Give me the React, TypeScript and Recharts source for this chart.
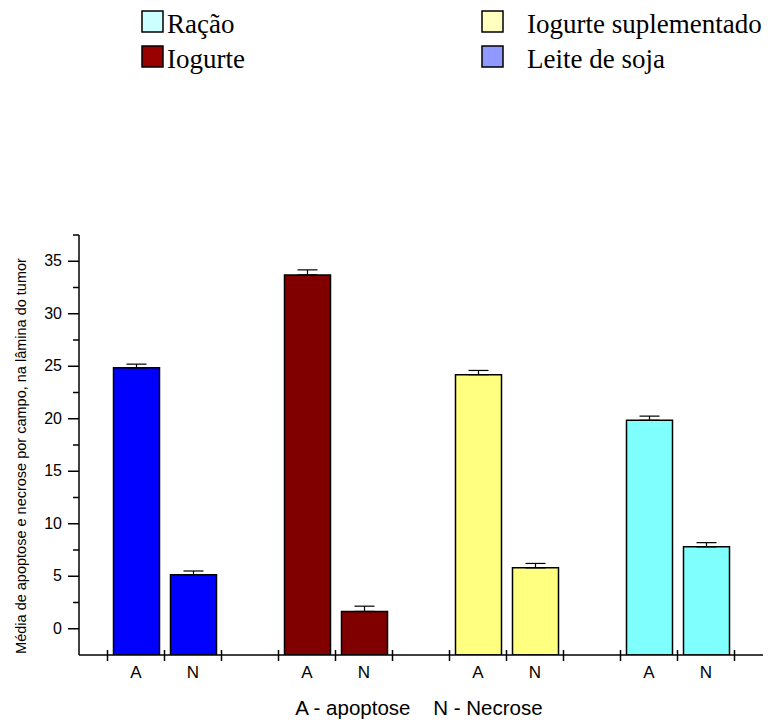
import { BarChart, Bar, XAxis, YAxis, Cell, ErrorBar, Label } from "recharts";

// group order on the x axis
const groups = ["Leite de soja", "Iogurte", "Iogurte suplementado", "Ração"];
const barColors = ["#0000ff", "#800000", "#ffff80", "#80ffff"];

const apoptose = [24.85, 33.7, 24.2, 19.85];
const apoptoseErr = [0.35, 0.48, 0.4, 0.4];
const necrose = [5.15, 1.65, 5.8, 7.8];
const necroseErr = [0.35, 0.5, 0.42, 0.4];

const yTicks = [0, 2.5, 5, 7.5, 10, 12.5, 15, 17.5, 20, 22.5, 25, 27.5, 30, 32.5, 35, 37.5];
const yMin = -2.5;
const yMax = 37.5;

const legendNames = ["Ração", "Iogurte", "Iogurte suplementado", "Leite de soja"];
const legendColors = ["#ccffff", "#990000", "#ffffc0", "#9099ff"];

const rows: any[] = [];
groups.forEach((g, i) => {
  rows.push({ id: `${i}A`, label: "A", group: g, value: [yMin, apoptose[i]], err: [0, apoptoseErr[i]], color: barColors[i] });
  rows.push({ id: `${i}N`, label: "N", group: g, value: [yMin, necrose[i]], err: [0, necroseErr[i]], color: barColors[i] });
  if (i < groups.length - 1) rows.push({ id: `gap${i}`, label: "", group: "", value: null, err: null, color: "none" });
});

const HALF_SLOT = 28.5;
const tickFont = "'Liberation Sans', Arial, sans-serif";

const XTick = (props: any) => {
  const { x, y, payload } = props;
  const row = rows.find((r) => r.id === payload.value);
  if (!row || !row.label) return null;
  return (
    <g>
      <line x1={x - HALF_SLOT} x2={x - HALF_SLOT} y1={y - 5} y2={y + 6} stroke="#000" strokeWidth={1.5} />
      {row.label === "N" && (
        <line x1={x + HALF_SLOT} x2={x + HALF_SLOT} y1={y - 5} y2={y + 6} stroke="#000" strokeWidth={1.5} />
      )}
      <text x={x} y={y + 23} textAnchor="middle" fontSize={17} fontFamily={tickFont} fill="#000">
        {row.label}
      </text>
    </g>
  );
};

const YTick = (props: any) => {
  const { x, y, payload } = props;
  const major = payload.value % 5 === 0;
  return (
    <g>
      <line x1={major ? x - 11 : x - 6} x2={x} y1={y} y2={y} stroke="#000" strokeWidth={1.5} />
      {major && (
        <text x={x - 17} y={y + 5} textAnchor="end" fontSize={16} fontFamily={tickFont} fill="#000">
          {payload.value}
        </text>
      )}
    </g>
  );
};

const Legend = () => (
  <svg width={770} height={80} style={{ position: "absolute", left: 0, top: 0 }}>
    {legendNames.map((name, i) => {
      const col = Math.floor(i / 2);
      const row = i % 2;
      const sx = col === 0 ? 142 : 482;
      const tx = col === 0 ? 167 : 527;
      const sy = 11 + row * 35;
      return (
        <g key={name}>
          <rect x={sx} y={sy} width={21} height={21} fill={legendColors[i]} stroke="#000" strokeWidth={1.5} />
          <text x={tx} y={sy + 22} fontSize={27} fontFamily="'Liberation Serif', 'Times New Roman', serif" fill="#000">
            {name}
          </text>
        </g>
      );
    })}
  </svg>
);

export default function App() {
  return (
    <div style={{ position: "absolute", left: 0, top: 0, width: 770, height: 721, background: "#fff" }}>
      <Legend />
      <BarChart width={770} height={721} data={rows} margin={{ top: 235, right: 7, left: 0, bottom: 26 }}>
        <XAxis
          dataKey="id"
          interval={0}
          padding={{ left: HALF_SLOT, right: HALF_SLOT }}
          height={40}
          tickSize={0}
          tickMargin={0}
          tick={<XTick />}
          axisLine={{ stroke: "#000", strokeWidth: 1.5 }}
        >
          <Label
            content={() => (
              <text x={419} y={715} textAnchor="middle" fontSize={20.5} fontFamily={tickFont} fill="#000" style={{ whiteSpace: "pre" }}>
                {"A - apoptose    N - Necrose"}
              </text>
            )}
          />
        </XAxis>
        <YAxis
          type="number"
          domain={[yMin, yMax]}
          ticks={yTicks}
          interval={0}
          width={79}
          tickSize={0}
          tickMargin={0}
          tick={<YTick />}
          axisLine={{ stroke: "#000", strokeWidth: 1.5 }}
          allowDataOverflow
        >
          <Label
            content={() => (
              <text x={26} y={456} transform="rotate(-90 26 456)" textAnchor="middle" fontSize={14.5} fontFamily={tickFont} fill="#000">
                Média de apoptose e necrose por campo, na lâmina do tumor
              </text>
            )}
          />
        </YAxis>
        <Bar dataKey="value" barSize={46} stroke="#000" strokeWidth={1.5} isAnimationActive={false}>
          {rows.map((r) => (
            <Cell key={r.id} fill={r.color} />
          ))}
          <ErrorBar dataKey="err" direction="y" width={10} stroke="#000" strokeWidth={1.2} />
        </Bar>
      </BarChart>
    </div>
  );
}
